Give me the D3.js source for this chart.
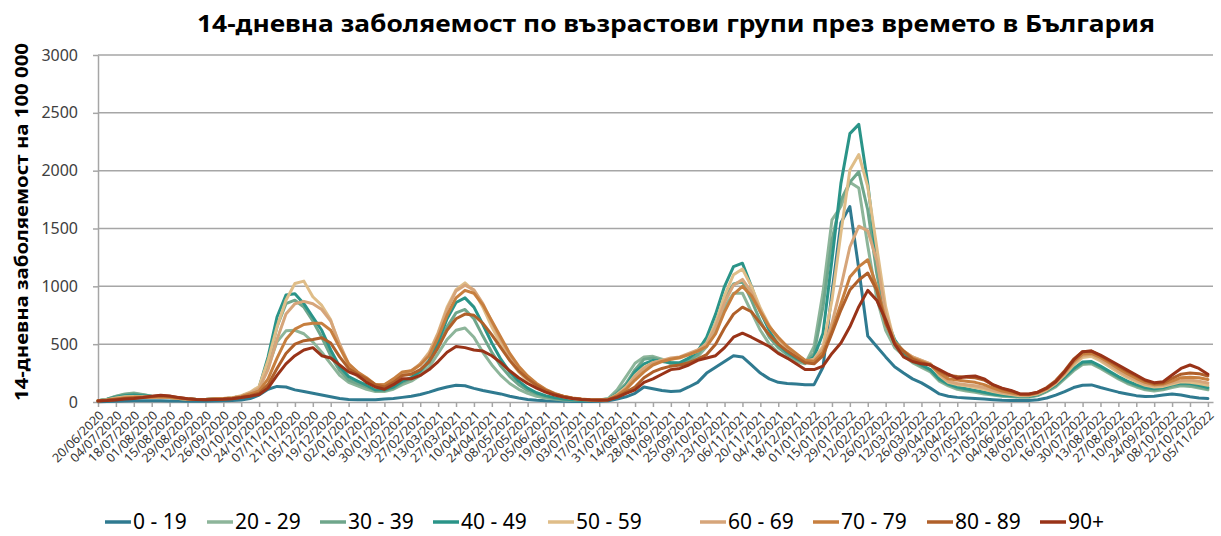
<!DOCTYPE html>
<html>
<head>
<meta charset="utf-8">
<script src="https://cdn.jsdelivr.net/npm/d3@7"></script>
<style>
  body { margin: 0; background: #fff; }
  svg { display: block; font-family: "Noto Sans", sans-serif; }
</style>
</head>
<body>
<svg id="chart" width="1221" height="536"></svg>
<script>
// weekly readings of the 14-day incidence per 100 000, first point 20/06/2020
const firstDay = "2020-06-20";
const lastDay = "2022-11-09";
const stepDays = 7;
const tickEveryDays = 14;
const yTicks = [0, 500, 1000, 1500, 2000, 2500, 3000];

const groups = ["0 - 19", "20 - 29", "30 - 39", "40 - 49", "50 - 59", "60 - 69", "70 - 79", "80 - 89", "90+"];

const inc0_19 = [3,4,6,8,10,10,10,10,9,8,7,7,7,8,10,12,18,30,
  60,110,135,130,105,90,75,60,45,30,22,20,20,20,25,30,
  40,50,65,85,110,130,145,140,118,100,85,70,50,35,22,15,10,8,6,5,5,5,6,
  10,25,45,75,130,115,100,90,95,130,170,250,300,350,400,390,320,250,200,170,160,155,150,
  150,300,950,1550,1690,1150,570,480,390,305,250,200,165,120,70,50,
  40,35,30,25,20,15,12,12,14,20,35,60,90,125,145,148,125,105,85,70,55,48,50,60,70,60,45,35,30];
const inc20_29 = [12,25,50,70,78,65,50,45,38,30,25,22,22,25,28,35,50,75,
  120,300,520,615,620,590,520,430,330,230,170,140,110,90,90,110,
  150,180,230,300,420,540,620,640,560,430,320,230,160,110,75,50,35,25,18,15,15,15,18,
  30,105,220,335,390,395,370,330,320,340,390,480,620,820,940,940,780,620,500,430,380,350,330,
  480,950,1575,1690,1900,1850,1350,900,620,470,400,340,300,260,180,140,
  110,95,85,70,60,50,45,40,40,55,90,130,200,270,325,330,290,245,200,160,130,105,95,105,125,140,135,120,105];
const inc30_39 = [12,25,48,65,72,62,50,45,38,30,25,22,22,25,28,35,50,75,
  120,330,650,850,880,820,700,560,400,270,190,160,130,100,100,120,
  170,200,260,340,480,650,770,800,720,570,430,310,220,150,100,70,45,30,22,18,15,15,18,
  25,80,160,280,370,380,360,340,330,360,410,520,680,900,1020,1040,880,700,560,470,410,370,340,
  420,824,1400,1745,1900,1990,1660,1115,710,520,420,350,310,270,190,150,
  120,105,95,80,65,55,50,45,45,60,95,140,210,280,335,340,300,255,210,170,140,115,105,115,135,150,145,130,115];
const inc40_49 = [10,22,42,55,60,55,48,45,38,30,25,22,22,25,28,35,50,78,
  125,390,735,925,935,850,735,620,450,305,220,180,145,105,105,130,
  180,210,270,360,520,720,860,900,820,670,510,370,260,180,120,80,55,38,25,20,15,15,18,
  22,70,140,260,330,360,350,340,340,380,440,560,760,1000,1170,1200,1000,780,620,500,430,380,340,
  390,595,1227,1890,2320,2400,1890,1230,740,540,430,360,320,280,200,155,
  130,115,100,85,70,60,55,50,50,65,100,150,220,290,345,350,310,265,220,180,150,125,115,125,150,165,160,145,125];
const inc50_59 = [10,20,35,45,48,45,45,45,38,30,25,22,22,26,30,38,55,85,
  135,360,650,880,1025,1045,910,835,710,480,305,220,180,130,145,190,
  230,260,330,430,600,820,970,1030,960,820,650,500,360,260,185,135,95,65,45,30,22,18,18,
  22,65,130,230,300,340,360,370,380,410,440,510,680,920,1100,1150,1000,810,660,540,460,400,350,
  370,480,880,1460,2005,2140,1860,1340,824,510,440,390,360,330,230,170,
  150,140,125,110,90,75,65,55,55,70,105,160,235,320,385,395,355,305,255,210,175,145,130,135,155,175,170,160,145];
const inc60_69 = [10,18,30,40,44,42,42,42,38,30,25,22,22,26,30,35,50,78,
  115,280,540,760,850,870,850,800,700,500,330,250,200,150,150,190,
  250,270,330,420,590,800,960,1010,970,850,690,540,400,290,210,150,105,70,48,32,24,20,18,
  22,60,120,220,290,340,360,380,390,420,450,500,650,860,1010,1060,950,790,650,550,470,410,360,
  360,460,680,995,1340,1520,1480,1227,765,520,440,390,360,330,240,180,
  160,150,140,125,100,85,70,60,58,75,110,165,245,335,400,410,370,320,270,225,190,155,140,145,165,185,190,180,165];
const inc70_79 = [10,16,26,35,40,40,42,45,40,32,26,22,22,25,28,32,45,70,
  95,200,380,540,630,670,680,680,620,470,330,260,210,150,150,200,
  260,270,320,400,560,750,900,965,940,840,700,560,420,310,225,160,110,75,50,34,25,20,18,
  20,55,110,190,260,320,350,370,385,410,440,480,590,780,930,1000,920,780,650,560,480,420,360,
  350,430,620,850,1080,1170,1230,997,710,520,440,380,350,320,250,200,
  190,180,170,150,120,95,80,65,62,80,115,175,255,350,415,420,385,340,290,245,205,170,150,155,180,210,215,210,195];
const inc80_89 = [10,15,22,30,35,40,48,55,50,38,28,22,22,24,26,30,40,55,
  75,150,290,420,500,530,540,555,510,390,290,240,200,150,130,170,
  230,240,280,350,470,620,720,760,750,680,580,470,360,270,200,145,100,70,48,33,24,20,18,
  20,45,85,130,210,260,290,310,320,340,370,410,500,640,760,820,780,680,580,500,440,390,340,
  330,400,595,795,968,1055,1115,968,680,510,440,370,340,320,270,230,
  220,215,210,190,145,115,95,70,68,85,125,185,270,370,435,440,400,355,310,265,225,185,160,165,205,240,250,245,225];
const inc90plus = [8,12,18,25,30,38,50,58,52,38,28,22,20,22,24,28,38,50,
  65,120,230,330,400,450,470,400,380,320,260,230,170,130,110,150,
  200,200,230,280,350,430,480,470,450,440,400,340,270,210,160,120,85,60,42,30,22,18,16,
  18,40,75,105,170,200,240,280,290,320,360,380,400,470,560,595,560,520,480,420,380,330,280,
  280,310,420,510,650,824,965,880,710,500,390,350,330,320,280,240,
  205,220,225,200,150,120,100,70,70,85,120,175,262,363,435,440,405,363,320,276,233,190,167,175,233,290,320,290,240];

const seriesValues = [inc0_19, inc20_29, inc30_39, inc40_49, inc50_59, inc60_69, inc70_79, inc80_89, inc90plus];
const colors = ["#2f7a90", "#8db59a", "#6fa68b", "#2a9488", "#dfbd88", "#d6a57a", "#c77f3f", "#b0602a", "#993318"];

const svg = d3.select("#chart");
const margin = { left: 98, right: 8, top: 55, bottom: 134 };
const W = 1221, H = 536;

const parse = d3.utcParse("%Y-%m-%d");
const start = parse(firstDay);
const x = d3.scaleUtc()
  .domain([start, parse(lastDay)])
  .range([margin.left, W - margin.right]);
const y = d3.scaleLinear()
  .domain([0, 3000])
  .range([H - margin.bottom, margin.top]);

// title
svg.append("text")
  .attr("x", 676)
  .attr("y", 32)
  .attr("text-anchor", "middle")
  .attr("font-size", 24)
  .attr("font-weight", "bold")
  .attr("fill", "#000")
  .attr("textLength", 958)
  .attr("lengthAdjust", "spacingAndGlyphs")
  .text("14-дневна заболяемост по възрастови групи през времето в България");

// gridlines
svg.append("g")
  .selectAll("line")
  .data(yTicks.filter(d => d > 0))
  .enter().append("line")
  .attr("x1", margin.left)
  .attr("x2", W - margin.right)
  .attr("y1", d => y(d))
  .attr("y2", d => y(d))
  .attr("stroke", "#a6a6a6")
  .attr("stroke-width", 1.5);

// y axis
const yAxis = svg.append("g")
  .attr("transform", `translate(${margin.left},0)`)
  .call(d3.axisLeft(y).tickValues(yTicks).tickSize(5).tickSizeOuter(0).tickPadding(15).tickFormat(d3.format("d")));
yAxis.select(".domain").attr("stroke", "#a6a6a6").attr("stroke-width", 1.5);
yAxis.selectAll(".tick line").attr("stroke", "#a6a6a6").attr("stroke-width", 1.5);
yAxis.selectAll(".tick text")
  .attr("font-size", 16)
  .attr("font-family", "Noto Sans, sans-serif")
  .attr("fill", "#404040");

svg.append("text")
  .attr("transform", `translate(28,222) rotate(-90)`)
  .attr("text-anchor", "middle")
  .attr("font-size", 17)
  .attr("font-weight", "bold")
  .attr("textLength", 358)
  .attr("lengthAdjust", "spacingAndGlyphs")
  .text("14-дневна заболяемост на 100 000");

// x axis
const tickDates = d3.utcDay.range(start, d3.utcDay.offset(parse(lastDay), 1), tickEveryDays);
const xAxis = svg.append("g")
  .attr("transform", `translate(0,${y(0)})`)
  .call(d3.axisBottom(x).tickValues(tickDates).tickSize(5).tickSizeOuter(0).tickFormat(d3.utcFormat("%d/%m/%Y")));
xAxis.select(".domain").attr("stroke", "#a6a6a6").attr("stroke-width", 1.5);
xAxis.selectAll(".tick line").attr("stroke", "#a6a6a6").attr("stroke-width", 1.5);
xAxis.selectAll(".tick text")
  .attr("font-size", 12.5)
  .attr("font-family", "Noto Sans, sans-serif")
  .attr("fill", "#333")
  .attr("x", 0)
  .attr("y", 0)
  .attr("dy", "0.35em")
  .attr("transform", "translate(3,11) rotate(-45)")
  .style("text-anchor", "end");

// series lines
const line = d3.line()
  .x((d, i) => x(d3.utcDay.offset(start, i * stepDays)))
  .y(d => y(d));

svg.append("g")
  .selectAll("path")
  .data(seriesValues)
  .enter().append("path")
  .attr("d", d => line(d))
  .attr("fill", "none")
  .attr("stroke", (d, i) => colors[i])
  .attr("stroke-width", 3)
  .attr("stroke-linejoin", "round")
  .attr("stroke-linecap", "round");

// legend
const legendX = [105, 207, 320, 433, 548, 700, 813, 927, 1040];
const legend = svg.append("g")
  .selectAll("g")
  .data(groups)
  .enter().append("g")
  .attr("transform", (d, i) => `translate(${legendX[i]},522)`);
legend.append("line")
  .attr("x1", 0).attr("x2", 26)
  .attr("stroke", (d, i) => colors[i])
  .attr("stroke-width", 3.5);
legend.append("text")
  .attr("x", 28)
  .attr("dy", "0.35em")
  .attr("font-size", 21)
  .attr("fill", "#000")
  .text(d => d);
</script>
</body>
</html>
